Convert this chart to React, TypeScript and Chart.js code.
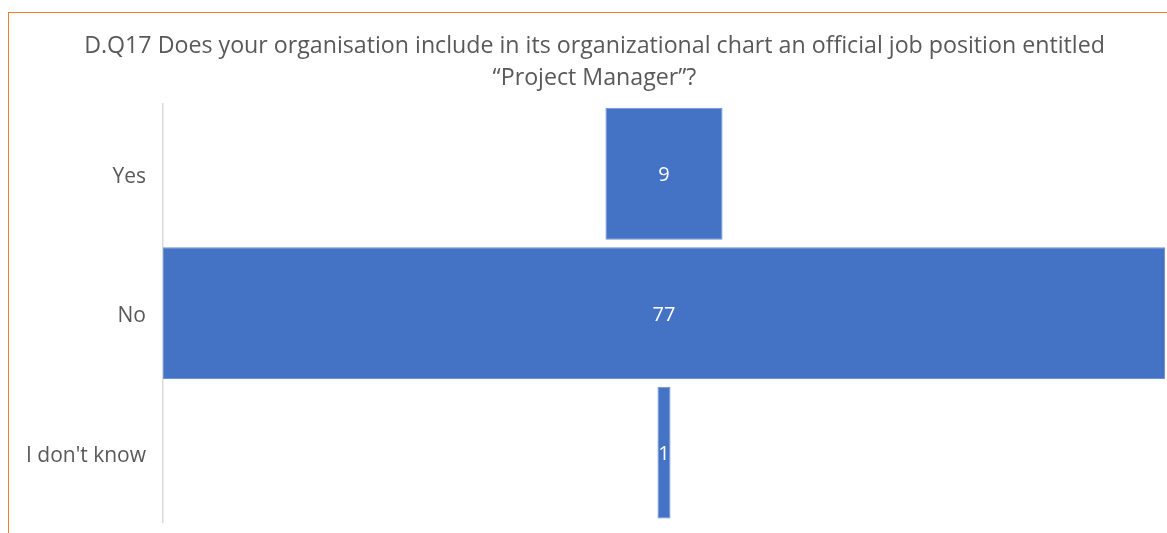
import React, { useEffect, useRef } from "react";
import { Chart, registerables } from "chart.js";

Chart.register(...registerables);

const categories = ["Yes", "No", "I don't know"];
const counts = [9, 77, 1];
const titleLines = [
  "D.Q17 Does your organisation include in its organizational chart an official job position entitled",
  "\u201cProject Manager\u201d?",
];

const FONT = "'Open Sans', 'Noto Sans', sans-serif";
const TEXT = "#595959";
const BAR = "#4472C4";

export default function App() {
  const ref = useRef<HTMLCanvasElement | null>(null);

  useEffect(() => {
    if (!ref.current) return;
    const half = Math.max(...counts) / 2;
    const titlePlugin = {
      id: "titleDraw",
      afterDraw(chart: any) {
        const ctx = chart.ctx;
        ctx.save();
        ctx.fillStyle = TEXT;
        ctx.font = `23.2px ${FONT}`;
        ctx.textAlign = "center";
        ctx.textBaseline = "middle";
        const cx = chart.width / 2;
        titleLines.forEach((t, i) => ctx.fillText(t, cx, 33 + i * 32));
        ctx.restore();
      },
    };
    const labelPlugin = {
      id: "barLabels",
      afterDatasetsDraw(chart: any) {
        const ctx = chart.ctx;
        const meta = chart.getDatasetMeta(0);
        ctx.save();
        ctx.fillStyle = "#ffffff";
        ctx.font = `20px ${FONT}`;
        ctx.textAlign = "center";
        ctx.textBaseline = "middle";
        meta.data.forEach((el: any, i: number) => {
          const p = el.getCenterPoint();
          ctx.fillText(String(counts[i]), p.x, p.y + 2);
        });
        ctx.restore();
      },
    };
    const chart = new Chart(ref.current, {
      type: "bar",
      data: {
        labels: categories,
        datasets: [
          {
            data: counts.map((v) => [-v / 2, v / 2]) as any,
            backgroundColor: BAR,
            borderColor: "#6E92D4",
            borderWidth: 1,
            borderSkipped: false,
            categoryPercentage: 0.945,
            barPercentage: 1,
          },
        ],
      },
      options: {
        indexAxis: "y",
        animation: false,
        responsive: false,
        maintainAspectRatio: false,
        layout: { padding: { top: 91, bottom: 25, right: 15, left: 0 } },
        plugins: {
          legend: { display: false },
          tooltip: { enabled: false },
          title: { display: false },
        },
        scales: {
          x: { display: false, min: -half, max: half },
          y: {
            afterFit(scale: any) {
              scale.width = 154;
            },
            grid: { display: false, drawTicks: false },
            border: { display: true, color: "#D9D9D9", width: 1.5 },
            ticks: {
              color: TEXT,
              font: { family: FONT, size: 21 },
              padding: 17,
              labelOffset: 3,
            },
          },
        },
      },
      plugins: [titlePlugin, labelPlugin],
    });
    return () => chart.destroy();
  }, []);

  return (
    <div
      style={{
        position: "fixed",
        left: 0,
        top: 0,
        width: 1167,
        height: 533,
        overflow: "hidden",
        background: "#fff",
      }}
    >
      <div
        style={{
          position: "absolute",
          left: 8,
          top: 12,
          width: 1172,
          height: 540,
          borderTop: "1.5px solid #ED7D31",
          borderLeft: "1.5px solid #ED7D31",
        }}
      >
        <canvas ref={ref} width={1171} height={539} style={{ display: "block" }} />
      </div>
    </div>
  );
}
